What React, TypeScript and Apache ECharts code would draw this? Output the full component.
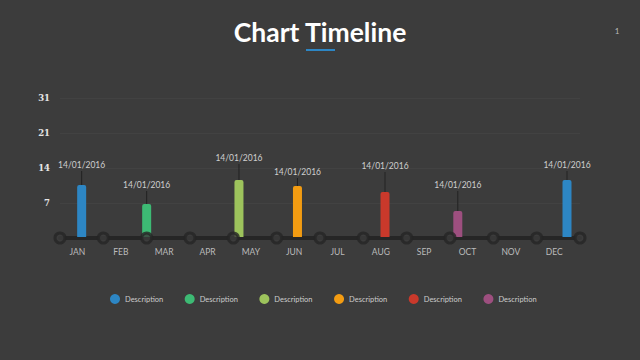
import React, { useEffect, useRef } from "react";
import * as echarts from "echarts";

const months = ["JAN", "FEB", "MAR", "APR", "MAY", "JUN", "JUL", "AUG", "SEP", "OCT", "NOV", "DEC"];
const yTickLabels = ["", "7", "14", "21", "31"];
const groupNames = ["Description 1", "Description 2", "Description 3", "Description 4", "Description 5", "Description 6"];
const groupColors = ["#2d86c4", "#3dba74", "#9dc35c", "#f39c12", "#c9392b", "#9d4f7f"];
const eventX = [0.5, 2.0, 4.13, 5.48, 7.5, 9.18, 11.7];
const eventValues = [10.6, 6.8, 11.6, 10.4, 9.2, 5.4, 11.6];
const eventLabelLevels = [13.8, 9.8, 15.2, 12.4, 13.6, 9.8, 13.8];
const eventLabels = ["14/01/2016", "14/01/2016", "14/01/2016", "14/01/2016", "14/01/2016", "14/01/2016", "14/01/2016"];
const eventGroup = [0, 1, 2, 3, 4, 5, 0];

export default function App() {
  const ref = useRef<HTMLDivElement>(null);
  useEffect(() => {
    if (!ref.current) return;
    const chart = echarts.init(ref.current, undefined, { renderer: "svg" });
    const nodes = months.map((_, i) => [i, 0]).concat([[12, 0]]);
    const series: any[] = groupNames.map((name, g) => ({
      name,
      type: "custom",
      z: 3,
      itemStyle: { color: groupColors[g] },
      data: eventX
        .map((x, i) => ({ i, x }))
        .filter((d) => eventGroup[d.i] === g)
        .map((d) => [d.x, eventValues[d.i], eventLabelLevels[d.i], d.i]),
      renderItem: (params: any, api: any) => {
        const x = api.value(0);
        const v = api.value(1);
        const lv = api.value(2);
        const idx = api.value(3);
        const top = api.coord([x, v]);
        const base = api.coord([x, 0]);
        const lab = api.coord([x, lv]);
        return {
          type: "group",
          children: [
            {
              type: "line",
              shape: { x1: top[0], y1: lab[1] + 2, x2: top[0], y2: top[1] },
              style: { stroke: "#222222", lineWidth: 1 },
            },
            {
              type: "rect",
              shape: { x: top[0] - 4.5, y: top[1], width: 9, height: base[1] - top[1] - 1, r: [2, 2, 0, 0] },
              style: { fill: groupColors[g] },
            },
            {
              type: "text",
              style: {
                text: eventLabels[idx],
                x: lab[0],
                y: lab[1],
                align: "center",
                verticalAlign: "bottom",
                fill: "#cfcfcf",
                font: "8.5px Lato",
              },
            },
          ],
        };
      },
    }));
    series.push({
      name: "nodes",
      type: "scatter",
      z: 5,
      symbol: "circle",
      symbolSize: 10,
      itemStyle: { color: "#3c3c3c", borderColor: "#262626", borderWidth: 3 },
      data: nodes,
      silent: true,
    });
    chart.setOption({
      animation: false,
      backgroundColor: "#3c3c3c",
      title: {
        text: "Chart Timeline",
        left: "center",
        top: 13,
        textStyle: { color: "#ffffff", fontFamily: "Lato", fontWeight: "bold", fontSize: 26.5 },
      },
      graphic: [
        { type: "rect", shape: { x: 306, y: 49, width: 29, height: 2 }, style: { fill: "#2d86c4" } },
        { type: "text", x: 617, y: 31, style: { text: "1", fill: "#bbbbbb", font: "8px Lato", align: "center", verticalAlign: "middle" } },
      ],
      legend: {
        data: groupNames,
        left: 105,
        top: 289,
        icon: "circle",
        itemWidth: 10,
        itemHeight: 10,
        itemGap: 21.5,
        formatter: () => "Description",
        textStyle: { color: "#cccccc", fontSize: 7.5, fontFamily: "Lato" },
      },
      grid: { left: 60, right: 60, top: 98, bottom: 122, containLabel: false },
      xAxis: {
        type: "value",
        min: 0,
        max: 12,
        interval: 1,
        axisLine: { show: true, lineStyle: { color: "#262626", width: 4 } },
        axisTick: { show: false },
        splitLine: { show: false },
        axisLabel: {
          margin: 9,
          color: "#bbbbbb",
          fontSize: 8.5,
          fontFamily: "Lato",
          align: "center",
          padding: [0, 0, 0, 35],
          formatter: (v: number) => months[Math.round(v)] || "",
        },
      },
      yAxis: {
        type: "value",
        min: 0,
        max: 28,
        interval: 7,
        axisLine: { show: false },
        axisTick: { show: false },
        splitLine: { show: true, lineStyle: { color: "#424242", width: 1 } },
        axisLabel: {
          margin: 10,
          color: "#e6e6e6",
          fontSize: 8.5,
          fontWeight: "bold",
          fontFamily: "DejaVu Serif",
          formatter: (v: number) => yTickLabels[Math.round(v / 7)] || "",
        },
      },
      series,
    });
    return () => chart.dispose();
  }, []);
  return <div ref={ref} style={{ width: 640, height: 360, position: "absolute", left: 0, top: 0 }} />;
}
